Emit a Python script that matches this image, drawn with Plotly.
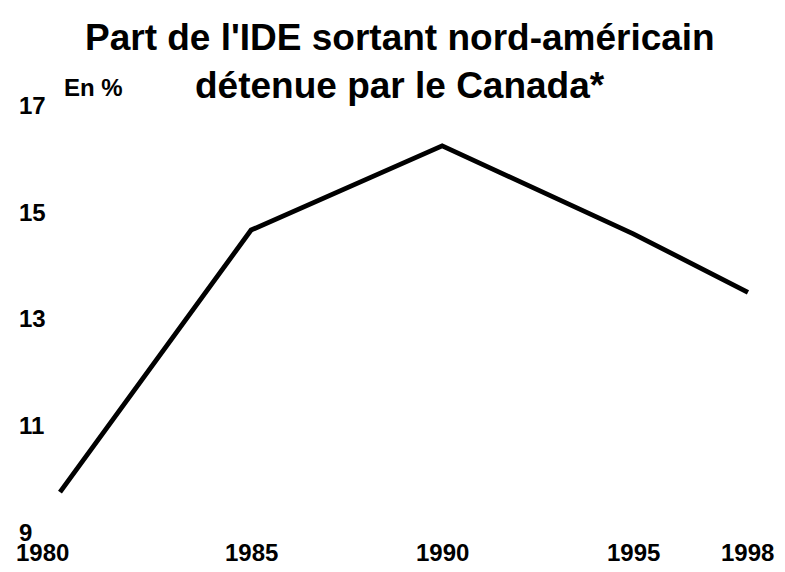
import plotly.graph_objects as go

years = [1980, 1985, 1990, 1995, 1998]
share = [9.75, 14.67, 16.25, 14.6, 13.5]
x_ticks = [1980, 1985, 1990, 1995, 1998]
y_ticks = [9, 11, 13, 15, 17]
title_lines = ["Part de l'IDE sortant nord-américain", "détenue par le Canada*"]
unit_label = "En %"

# the page body adds an 8px margin around the figure
W, H = 769, 556
OFF = 8
FONT = "Liberation Sans, Arial, sans-serif"


def py(ref_px):
    return 1 - (ref_px - OFF) / H


def px(ref_px):
    return (ref_px - OFF) / W


fig = go.Figure()
fig.add_trace(go.Scatter(
    x=years, y=share, mode="lines",
    line=dict(color="#000000", width=4.8),
    hoverinfo="skip", showlegend=False,
))

fig.update_layout(
    width=W, height=H,
    margin=dict(l=0, r=0, t=0, b=0, autoexpand=False),
    paper_bgcolor="white", plot_bgcolor="white",
    font=dict(family=FONT, color="#000000"),
    showlegend=False,
    xaxis=dict(range=[1978.64, 1998.76], showticklabels=False, showgrid=False,
               zeroline=False, showline=False, ticks="", automargin=False),
    yaxis=dict(range=[8.399, 18.84], showticklabels=False, showgrid=False,
               zeroline=False, showline=False, ticks="", automargin=False),
)

# y-axis tick labels, placed through the y scale, left aligned
for v in y_ticks:
    fig.add_annotation(text=f"<b>{v}</b>", xref="paper", yref="y",
                       x=px(17), y=v, xanchor="left", yanchor="middle",
                       showarrow=False, font=dict(size=24, family=FONT, color="#000000"))

# x-axis tick labels, placed through the x scale
for v in x_ticks:
    fig.add_annotation(text=f"<b>{v}</b>", xref="x", yref="paper",
                       x=v, y=py(552), xanchor="center", yanchor="middle",
                       xshift=-17 if v == x_ticks[0] else 0,
                       showarrow=False, font=dict(size=24, family=FONT, color="#000000"))

fig.add_annotation(text=f"<b>{title_lines[0]}</b>", xref="paper", yref="paper",
                   x=px(400), y=py(37), xanchor="center", yanchor="middle",
                   showarrow=False, font=dict(size=37, family=FONT, color="#000000"))
fig.add_annotation(text=f"<b>{title_lines[1]}</b>", xref="paper", yref="paper",
                   x=px(400), y=py(85), xanchor="center", yanchor="middle",
                   showarrow=False, font=dict(size=37, family=FONT, color="#000000"))
fig.add_annotation(text=f"<b>{unit_label}</b>", xref="paper", yref="paper",
                   x=px(62), y=py(87), xanchor="left", yanchor="middle",
                   showarrow=False, font=dict(size=24, family=FONT, color="#000000"))

fig.write_html("out.html")
